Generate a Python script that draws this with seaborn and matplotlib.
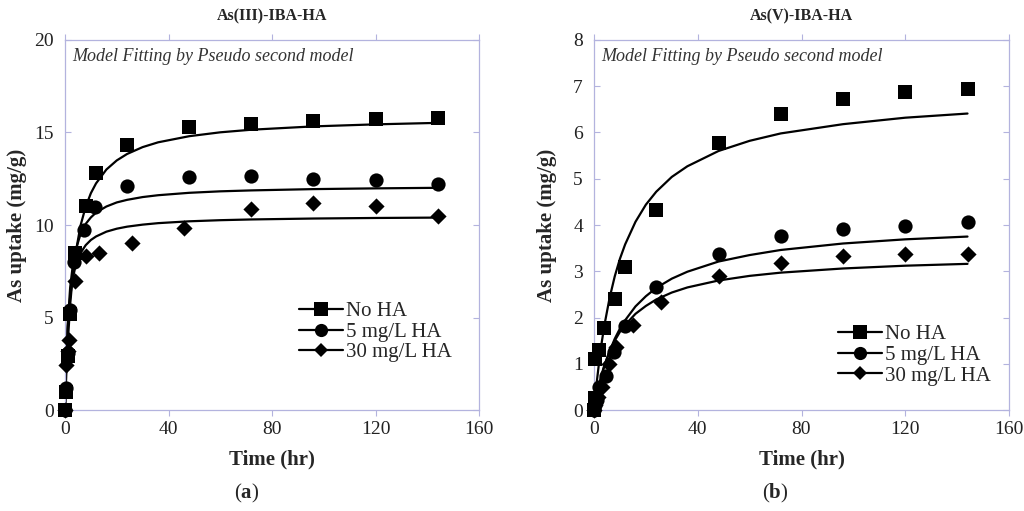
import matplotlib
matplotlib.use("Agg")
import matplotlib.pyplot as plt
import seaborn as sns
import pandas as pd
from matplotlib.lines import Line2D

# ---------------- data ----------------
series_names = ["No HA", "5 mg/L HA", "30 mg/L HA"]
series_markers = ["s", "o", "D"]

# Panel (a) As(III)-IBA-HA : measured points
a_noha_t = [0, 0.5, 1, 2, 4, 8, 12, 24, 48, 72, 96, 120, 144]
a_noha_q = [0, 1.0, 2.9, 5.2, 8.5, 11.05, 12.8, 14.35, 15.3, 15.45, 15.6, 15.75, 15.8]
a_5_t = [0, 0.5, 1, 2, 3.5, 7.5, 11.5, 24, 48, 72, 96, 120, 144]
a_5_q = [0, 1.2, 3.1, 5.4, 8.0, 9.75, 10.95, 12.1, 12.6, 12.65, 12.5, 12.45, 12.2]
a_30_t = [0, 0.5, 1, 1.5, 4, 8, 13, 26, 46, 72, 96, 120, 144]
a_30_q = [0, 2.45, 3.2, 3.8, 6.95, 8.3, 8.5, 9.05, 9.85, 10.85, 11.2, 11.0, 10.5]

# Panel (b) As(V)-IBA-HA : measured points
b_noha_t = [0, 0.25, 0.5, 2, 4, 8, 12, 24, 48, 72, 96, 120, 144]
b_noha_q = [0, 0.25, 1.1, 1.3, 1.78, 2.4, 3.1, 4.33, 5.78, 6.41, 6.72, 6.88, 6.95]
b_5_t = [0, 0.5, 1, 2, 4.5, 7.7, 12, 24, 48, 72, 96, 120, 144]
b_5_q = [0, 0.1, 0.22, 0.5, 0.73, 1.26, 1.82, 2.65, 3.38, 3.76, 3.92, 3.97, 4.06]
b_30_t = [0, 0.5, 1.7, 3.2, 5.8, 8.6, 15, 26, 48, 72, 96, 120, 144]
b_30_q = [0, 0.1, 0.29, 0.5, 1.0, 1.37, 1.84, 2.34, 2.89, 3.18, 3.32, 3.37, 3.37]

# fitted curves (pseudo second order)
fit_t = [0, 0.5, 1, 2, 3, 4, 6, 8, 10, 12, 16, 20, 24, 30, 36, 48, 60, 72, 96, 120, 144]
a_noha_fit = [0, 1.95, 3.48, 5.71, 7.26, 8.4, 9.97, 10.99, 11.72, 12.25, 13.0, 13.49, 13.84,
              14.21, 14.47, 14.8, 15.01, 15.15, 15.33, 15.44, 15.52]
a_5_fit = [0, 2.8, 4.56, 6.63, 7.81, 8.58, 9.51, 10.06, 10.41, 10.67, 11.0, 11.22, 11.36,
           11.51, 11.61, 11.74, 11.82, 11.87, 11.94, 11.98, 12.01]
a_30_fit = [0, 2.72, 4.32, 6.13, 7.11, 7.74, 8.48, 8.91, 9.19, 9.38, 9.64, 9.8, 9.91,
            10.02, 10.1, 10.2, 10.26, 10.3, 10.35, 10.38, 10.4]
b_noha_fit = [0, 0.3, 0.57, 1.05, 1.47, 1.83, 2.42, 2.89, 3.27, 3.58, 4.07, 4.44, 4.72,
              5.04, 5.27, 5.6, 5.82, 5.98, 6.18, 6.32, 6.41]
b_5_fit = [0, 0.15, 0.29, 0.53, 0.75, 0.95, 1.27, 1.54, 1.76, 1.94, 2.24, 2.46, 2.64,
           2.84, 2.99, 3.21, 3.35, 3.46, 3.6, 3.69, 3.75]
b_30_fit = [0, 0.16, 0.31, 0.56, 0.78, 0.97, 1.27, 1.5, 1.69, 1.84, 2.08, 2.25, 2.39,
            2.54, 2.65, 2.8, 2.9, 2.97, 3.06, 3.12, 3.16]

panel_titles = ["As(III)-IBA-HA", "As(V)-IBA-HA"]
panel_captions = ["a", "b"]
x_ticks = [0, 40, 80, 120, 160]
a_y_ticks = [0, 5, 10, 15, 20]
b_y_ticks = [0, 1, 2, 3, 4, 5, 6, 7, 8]
note_text = "Model Fitting by Pseudo second model"
x_label = "Time (hr)"
y_label = "As uptake (mg/g)"

# ---------------- style ----------------
sns.set_theme(style="ticks")
plt.rcParams["font.family"] = ["Liberation Serif", "DejaVu Serif"]
plt.rcParams["mathtext.fontset"] = "custom"
plt.rcParams["mathtext.rm"] = "Liberation Serif"
plt.rcParams["mathtext.bf"] = "Liberation Serif:bold"

frame_col = "#b3b3de"

fig = plt.figure(figsize=(10.24, 5.11), dpi=100)
ax_a = fig.add_axes([65 / 1024, 101 / 511, 414 / 1024, 370 / 511])
ax_b = fig.add_axes([594 / 1024, 101 / 511, 415 / 1024, 370 / 511])

panels = [
    (ax_a, [(a_noha_t, a_noha_q, a_noha_fit), (a_5_t, a_5_q, a_5_fit), (a_30_t, a_30_q, a_30_fit)],
     a_y_ticks, (0, 20), (0.565, 0.293), 5),
    (ax_b, [(b_noha_t, b_noha_q, b_noha_fit), (b_5_t, b_5_q, b_5_fit), (b_30_t, b_30_q, b_30_fit)],
     b_y_ticks, (0, 8), (0.588, 0.23), 11.5),
]

marker_sizes = {"s": 100, "o": 105, "D": 68}

for i, (ax, data, yt, ylim, leg_xy, ypad) in enumerate(panels):
    for (t, q, fit), name, mk in zip(data, series_names, series_markers):
        dfit = pd.DataFrame({"t": fit_t, "q": fit})
        sns.lineplot(data=dfit, x="t", y="q", ax=ax, color="black", lw=1.6,
                     estimator=None, sort=False, legend=False, zorder=2)
        dpt = pd.DataFrame({"t": t, "q": q})
        sns.scatterplot(data=dpt, x="t", y="q", ax=ax, color="black", marker=mk,
                        s=marker_sizes[mk], linewidth=0, legend=False, zorder=3,
                        clip_on=False)
    ax.set_xlim(0, 160)
    ax.set_ylim(*ylim)
    ax.set_xticks(x_ticks)
    ax.set_yticks(yt)
    ax.set_xticklabels([str(v) for v in x_ticks])
    ax.set_yticklabels([str(v) for v in yt])
    for sp in ax.spines.values():
        sp.set_visible(True)
        sp.set_color(frame_col)
        sp.set_linewidth(0.9)
    ax.tick_params(axis="x", direction="out", length=4, width=0.8, color=frame_col,
                   top=True, bottom=True, labeltop=False, labelsize=14, pad=4,
                   labelcolor="#222222")
    ax.tick_params(axis="y", direction="in", length=4, width=0.8, color=frame_col,
                   left=True, right=True, labelright=False, labelsize=14, pad=8,
                   labelcolor="#222222")
    ax.set_xlabel(x_label, fontsize=15, fontweight="bold", labelpad=8)
    ax.set_ylabel(y_label, fontsize=15, fontweight="bold", labelpad=ypad)
    ax.set_title(panel_titles[i], fontsize=11.5, fontweight="bold", pad=14)
    ax.text(0.018, 0.955, note_text, transform=ax.transAxes, fontsize=13,
            style="italic", color="#333333", ha="left", va="center")
    handles = [Line2D([0], [0], color="black", lw=1.6, marker=mk, markersize=ms,
                      markeredgewidth=0)
               for mk, ms in zip(series_markers, [9.5, 9.5, 7.5])]
    ax.legend(handles, series_names, loc="upper left", bbox_to_anchor=leg_xy,
              frameon=False, fontsize=15, handlelength=2.1, handletextpad=0.15,
              labelspacing=0.05, borderpad=0, borderaxespad=0)

fig.text(247 / 1024, 1 - 493 / 511, r"($\mathbf{a}$)", fontsize=15, ha="center", va="center")
fig.text(775 / 1024, 1 - 493 / 511, r"($\mathbf{b}$)", fontsize=15, ha="center", va="center")

fig.savefig("out.png", dpi=100)
